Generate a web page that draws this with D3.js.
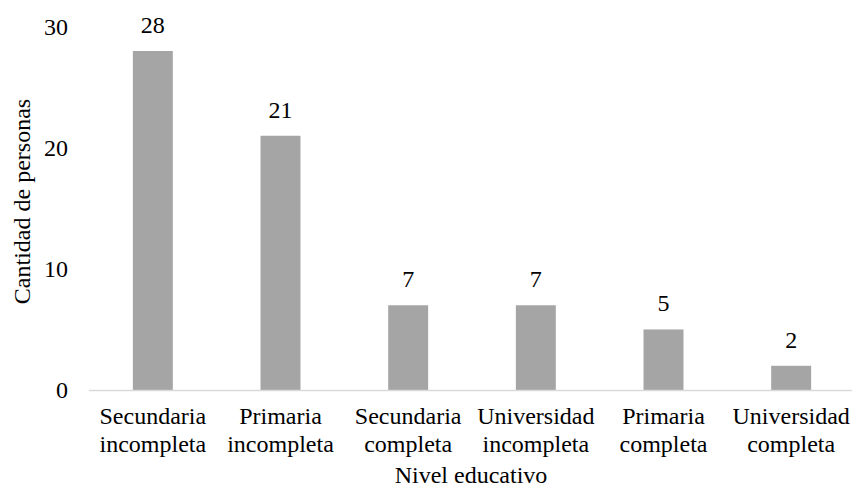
<!DOCTYPE html>
<html><head><meta charset="utf-8">
<script src="https://cdn.jsdelivr.net/npm/d3@7"></script>
</head><body style="margin:0;background:#fff"><svg id="c" width="854" height="490"></svg>
<script>
const categories = [["Secundaria","incompleta"],["Primaria","incompleta"],["Secundaria","completa"],["Universidad","incompleta"],["Primaria","completa"],["Universidad","completa"]];
const values = [28,21,7,7,5,2];
const yTicks = [0,10,20,30];
const FONT = "Liberation Serif";

const svg = d3.select("#c");
const x = d3.scaleBand().domain(d3.range(categories.length)).range([89,855]).paddingInner(0.687).paddingOuter(0.3435);
const y = d3.scaleLinear().domain([0,30]).range([390,26.8]);

svg.selectAll("rect.bar").data(values).join("rect").attr("class","bar")
  .attr("x",(d,i)=>x(i)).attr("width",x.bandwidth())
  .attr("y",d=>y(d)).attr("height",d=>y(0)-y(d)).attr("fill","#A5A5A5");

svg.append("line").attr("x1",89).attr("x2",852).attr("y1",390.5).attr("y2",390.5).attr("stroke","#D9D9D9").attr("stroke-width",1.5);

function txt(sel){ return sel.attr("font-family",FONT).attr("font-size",24).attr("fill","#000"); }

txt(svg.selectAll("text.yt").data(yTicks).join("text").attr("class","yt"))
  .attr("x",68).attr("y",d=>y(d)+8).attr("text-anchor","end").text(d=>d);

txt(svg.selectAll("text.val").data(values).join("text").attr("class","val"))
  .attr("x",(d,i)=>x(i)+x.bandwidth()/2).attr("y",d=>y(d)-18).attr("text-anchor","middle").text(d=>d);

const xl = txt(svg.selectAll("text.xl").data(categories).join("text").attr("class","xl")).attr("text-anchor","middle");
xl.each(function(d,i){
  const t=d3.select(this);
  d.forEach((s,j)=>t.append("tspan").attr("x",x(i)+x.bandwidth()/2).attr("y",424+j*28).text(s));
});

txt(svg.append("text")).attr("x",471).attr("y",483).attr("text-anchor","middle").text("Nivel educativo");
txt(svg.append("text")).attr("transform","translate(30,201.5) rotate(-90)").attr("text-anchor","middle").text("Cantidad de personas");
</script></body></html>
